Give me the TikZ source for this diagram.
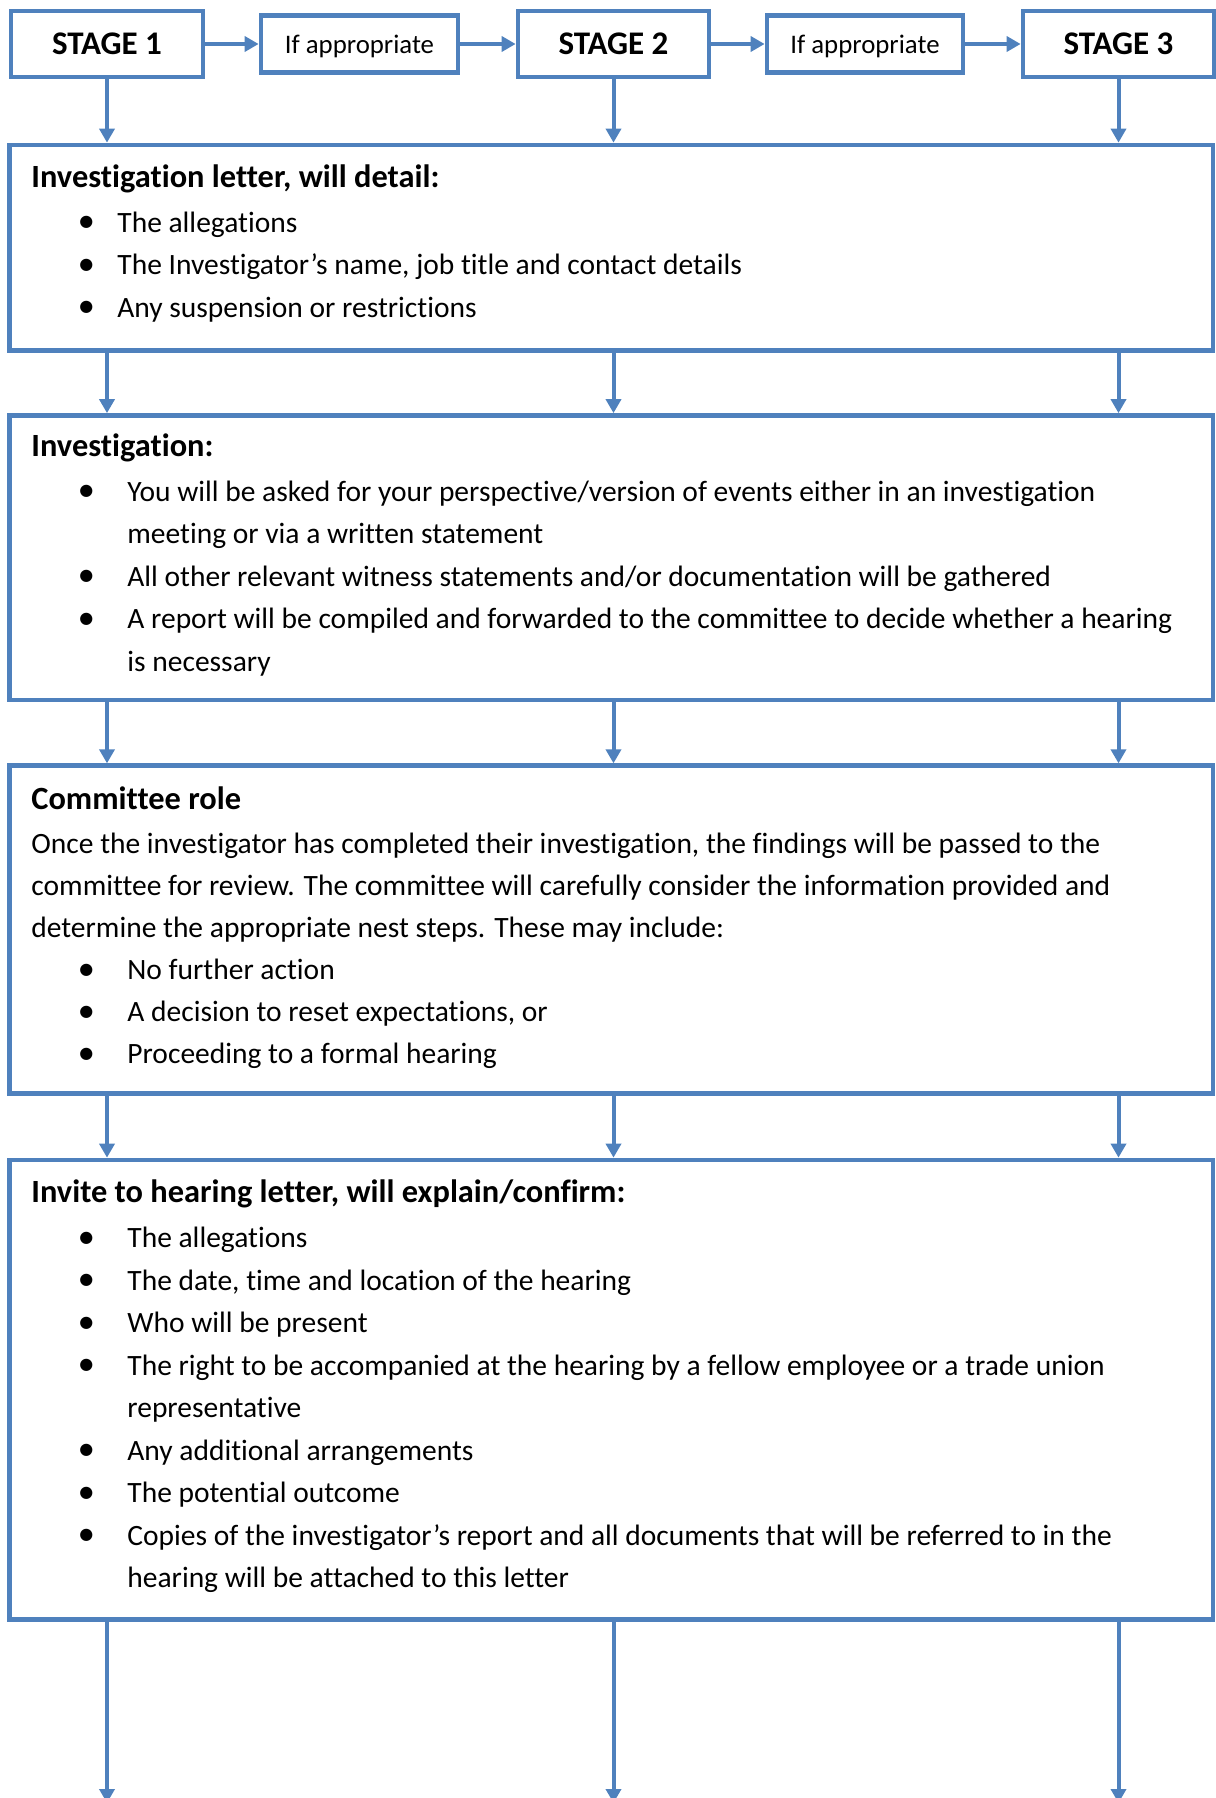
\documentclass[tikz,border=0pt]{standalone}
\usepackage{fontspec}
\setmainfont{Carlito}[Ligatures=NoCommon]
\newfontfamily\dejavu{DejaVu Sans}
\usetikzlibrary{arrows.meta}
\definecolor{ofblue}{HTML}{4F81BD}
\newcommand\bul{\raisebox{2.8pt}{\dejavu\fontsize{8pt}{8pt}\selectfont ●}}
\newcommand\hd[1]{\noindent{\fontsize{16.2pt}{21.25pt}\selectfont\bfseries #1}\par\vspace{1.2pt}}
\newcommand\bi[2]{\noindent\makebox[#1][l]{\hspace*{27.5pt}\makebox[0pt]{\bul}}#2\par}
\newcommand\cl[2]{\noindent\hspace*{#1}#2\par}
\newcommand\pl[1]{\noindent #1\par}
\newenvironment{boxtext}[1][21.25pt]{\begin{minipage}[t]{600pt}\fontsize{14.75pt}{#1}\selectfont\parindent=0pt\parskip=0pt}{\end{minipage}}
\begin{document}
\begin{tikzpicture}[x=0.5pt,y=-0.5pt,
  stagebox/.style={draw=ofblue, line width=2.35pt, inner sep=0pt, minimum height=33pt, font=\fontsize{16.5pt}{18pt}\selectfont\bfseries},
  ifbox/.style={draw=ofblue, line width=2.35pt, inner sep=0pt, minimum height=28.5pt, text depth=0pt, font=\fontsize{13.4pt}{16pt}\selectfont},
  mainbox/.style={draw=ofblue, line width=2.35pt, inner sep=0pt, minimum width=601.75pt},
  txt/.style={anchor=base west, inner sep=0pt},
  arr/.style={draw=ofblue, line width=2pt, -{Triangle[length=7pt,width=7.5pt]}}]
\useasboundingbox (0,0) rectangle (1215,1798);
% top row
\node[stagebox, minimum width=96pt] (s1) at (107,44) {STAGE 1};
\node[ifbox, minimum width=98.5pt] (i1) at (359.5,44) {If appropriate};
\node[stagebox, minimum width=95.5pt] (s2) at (613.5,44) {STAGE 2};
\node[ifbox, minimum width=98pt] (i2) at (865,44) {If appropriate};
\node[stagebox, minimum width=95.5pt] (s3) at (1118.5,44) {STAGE 3};
\draw[arr] (s1.east) -- (i1.west);
\draw[arr] (i1.east) -- (s2.west);
\draw[arr] (s2.east) -- (i2.west);
\draw[arr] (i2.east) -- (s3.west);
% main boxes
\node[mainbox, minimum height=102.75pt] (b1) at (611.25,247.75) {};
\node[mainbox, minimum height=142.25pt] (b2) at (611.25,557.75) {};
\node[mainbox, minimum height=163.9pt] (b3) at (611.25,929.6) {};
\node[mainbox, minimum height=229.85pt] (b4) at (611.25,1389.85) {};
% end points of the last arrows
\coordinate (e1) at (107,1803);
\coordinate (e2) at (613.5,1803);
\coordinate (e3) at (1118.5,1803);
\foreach \s/\e in {s1/e1,s2/e2,s3/e3}{
  \draw[arr] (\s.south) -- (\s.south |- b1.north);
  \draw[arr] (b1.south -| \s) -- (b2.north -| \s);
  \draw[arr] (b2.south -| \s) -- (b3.north -| \s);
  \draw[arr] (b3.south -| \s) -- (b4.north -| \s);
  \draw[arr] (b4.south -| \s) -- (\e);
}
% texts
\node[txt] (t1) at (31,187.5) {\begin{boxtext}
\hd{Investigation letter, will detail:}
\bi{43pt}{The allegations}
\bi{43pt}{The Investigator’s name, job title and contact details}
\bi{43pt}{Any suspension or restrictions}
\end{boxtext}};
\node[txt] (t2) at (31,456.5) {\begin{boxtext}
\hd{Investigation:}
\bi{48pt}{You will be asked for your perspective/version of events either in an investigation}
\cl{48pt}{meeting or via a written statement}
\bi{48pt}{All other relevant witness statements and/or documentation will be gathered}
\bi{48pt}{A report will be compiled and forwarded to the committee to decide whether a hearing}
\cl{48pt}{is necessary}
\end{boxtext}};
\node[txt] (t3) at (31,809.5) {\begin{boxtext}[21pt]
\hd{Committee role}
\pl{Once the investigator has completed their investigation, the findings will be passed to the}
\pl{committee for review. The committee will carefully consider the information provided and}
\pl{determine the appropriate nest steps. These may include:}
\bi{48pt}{No further action}
\bi{48pt}{A decision to reset expectations, or}
\bi{48pt}{Proceeding to a formal hearing}
\end{boxtext}};
\node[txt] (t4) at (31,1202.7) {\begin{boxtext}
\hd{Invite to hearing letter, will explain/confirm:}
\bi{48pt}{The allegations}
\bi{48pt}{The date, time and location of the hearing}
\bi{48pt}{Who will be present}
\bi{48pt}{The right to be accompanied at the hearing by a fellow employee or a trade union}
\cl{48pt}{representative}
\bi{48pt}{Any additional arrangements}
\bi{48pt}{The potential outcome}
\bi{48pt}{Copies of the investigator’s report and all documents that will be referred to in the}
\cl{48pt}{hearing will be attached to this letter}
\end{boxtext}};
\end{tikzpicture}
\end{document}
